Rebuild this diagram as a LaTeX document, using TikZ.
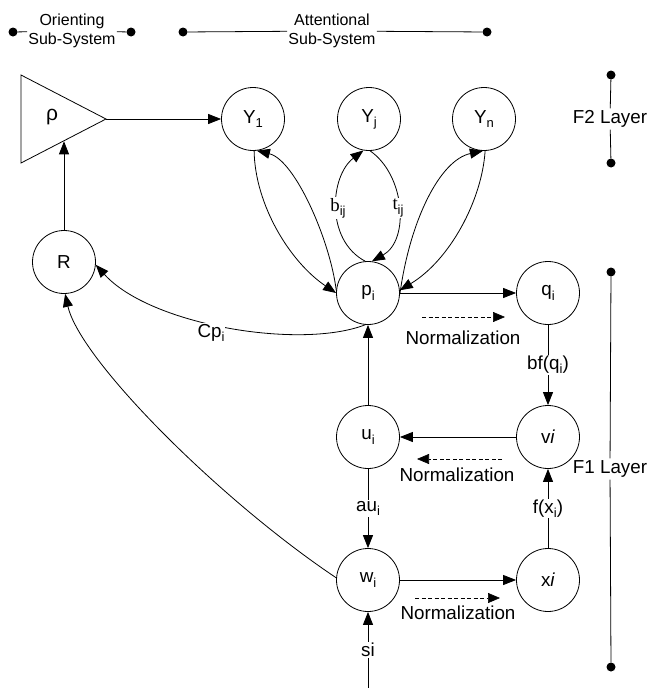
\documentclass[tikz,border=0pt]{standalone}
\usepackage{fontspec}
\setmainfont{Liberation Sans}
\newfontfamily\serifrm{Liberation Serif}
\usetikzlibrary{arrows.meta}
\newcommand{\lowidx}[1]{\raisebox{-0.22em}{\fontsize{13}{13}\selectfont #1}}
\begin{document}
\begin{tikzpicture}[x=1pt,y=-1pt,
  font=\fontsize{18.8}{22}\selectfont,
  neuron/.style={circle,draw,line width=0.8pt,minimum size=63pt,inner sep=0pt},
  arr/.style={line width=0.8pt,-{Triangle[length=13pt,width=10pt]}},
  link/.style={line width=0.8pt},
  norm/.style={line width=0.6pt,dash pattern=on 4pt off 2.5pt,-{Triangle[length=12pt,width=10pt]}},
  lbl/.style={fill=white,inner sep=1pt},
  dot/.style={circle,fill=black,inner sep=0pt,minimum size=9pt},
  hdr/.style={align=center,font=\fontsize{16}{19}\selectfont,inner sep=1pt},
  side/.style={inner sep=2pt},
]
\useasboundingbox (0,0) rectangle (656,688);

% header
\node[dot] (o1) at (13,32) {};
\node[dot] (o2) at (131,32) {};
\node[hdr] (orient) at (72,31) {Orienting\\Sub-System};
\draw[link] (o1) -- (orient);
\draw[link] (orient) -- (o2);
\node[dot] (a1) at (183,32) {};
\node[dot] (a2) at (487,32) {};
\node[hdr] (attn) at (332,31) {Attentional\\Sub-System};
\draw[link] (a1) -- (attn);
\draw[link] (attn) -- (a2);

% layer markers
\node[dot] (f2a) at (611,75) {};
\node[dot] (f2b) at (611,163) {};
\node[side] (f2) at (610,119) {F2 Layer};
\draw[link] (f2a) -- (f2);
\draw[link] (f2) -- (f2b);
\node[dot] (f1a) at (611,272) {};
\node[dot] (f1b) at (611,667) {};
\node[side] (f1) at (610,469) {F1 Layer};
\draw[link] (f1a) -- (f1);
\draw[link] (f1) -- (f1b);

% nodes
\node[neuron] (R) at (64,262) {R};
\node[neuron] (Y1) at (253,119) {Y\lowidx{1}};
\node[neuron] (Yj) at (369,119) {Y\lowidx{j}};
\node[neuron] (Yn) at (484,119) {Y\lowidx{n}};
\node[neuron] (pi) at (368,293) {p\lowidx{i}};
\node[neuron] (qi) at (548,293) {q\lowidx{i}};
\node[neuron] (ui) at (368,437) {u\lowidx{i}};
\node[neuron] (vi) at (548,437) {v\textit{i}};
\node[neuron] (wi) at (368,580) {w\lowidx{i}};
\node[neuron] (xi) at (548,580) {x\textit{i}};

% rho triangle
\coordinate (rhoA) at (21,75);
\coordinate (rhoB) at (21,163);
\coordinate (rhoT) at (106,119);
\coordinate (rhoIn) at (64,141.3);
\draw[link,line join=miter] (rhoA) -- (rhoT) -- (rhoB) -- cycle;
\node (rho) at (52,117) {\fontsize{21}{22}\selectfont ρ};
\draw[arr] (rhoT) -- (Y1);
\draw[arr] (R) -- (rhoIn);

% Y1 <-> pi
\draw[arr] (Y1.-88) .. controls (255,205) and (290,262) .. (pi.180);
\draw[arr] (pi.175) .. controls (330,240) and (295,160) .. (Y1.-83);
% Yj <-> pi
\draw[arr] (pi.95) .. controls (325,240) and (330,176) .. (Yj.-100);
\draw[arr] (Yj.-88) .. controls (405,175) and (410,240) .. (pi.83);
\node[lbl] (bij) at (338,208) {{\serifrm b}\lowidx{ij}};
\node[lbl] (tij) at (398,208) {{\serifrm t}\lowidx{ij}};
% Yn <-> pi
\draw[arr] (pi.-2) .. controls (410,220) and (440,160) .. (Yn.-92);
\draw[arr] (Yn.-88) .. controls (482,200) and (450,260) .. (pi.5);

% pi -> R, wi -> R
\draw[arr] (pi.-95) .. controls (300,350) and (150,325) .. (R.-5);
\node[lbl] (cp) at (211,333) {Cp\lowidx{i}};
\draw[arr] (wi.176) .. controls (220,500) and (80,360) .. (R.-88);

% F1 loop
\draw[arr] (pi) -- (qi);
\draw[arr] (qi) -- node[lbl] (bf) {bf(q\lowidx{i})} (vi);
\draw[arr] (vi) -- (ui);
\draw[arr] (ui) -- (pi);
\draw[arr] (ui) -- node[lbl] (au) {au\lowidx{i}} (wi);
\draw[arr] (wi) -- (xi);
\draw[arr] (xi) -- node[lbl] (fx) {f(x\lowidx{i})} (vi);
\coordinate (sIn) at (368,688);
\draw[arr] (sIn) -- node[lbl] (si) {si} (wi);

% normalization arrows
\coordinate (n1a) at (422,317); \coordinate (n1b) at (505,317);
\draw[norm] (n1a) -- (n1b);
\node (n1) at (463,338) {Normalization};
\coordinate (n2a) at (502,459); \coordinate (n2b) at (417,459);
\draw[norm] (n2a) -- (n2b);
\node (n2) at (457,475) {Normalization};
\coordinate (n3a) at (415,598); \coordinate (n3b) at (500,598);
\draw[norm] (n3a) -- (n3b);
\node (n3) at (458,613) {Normalization};
\end{tikzpicture}
\end{document}
